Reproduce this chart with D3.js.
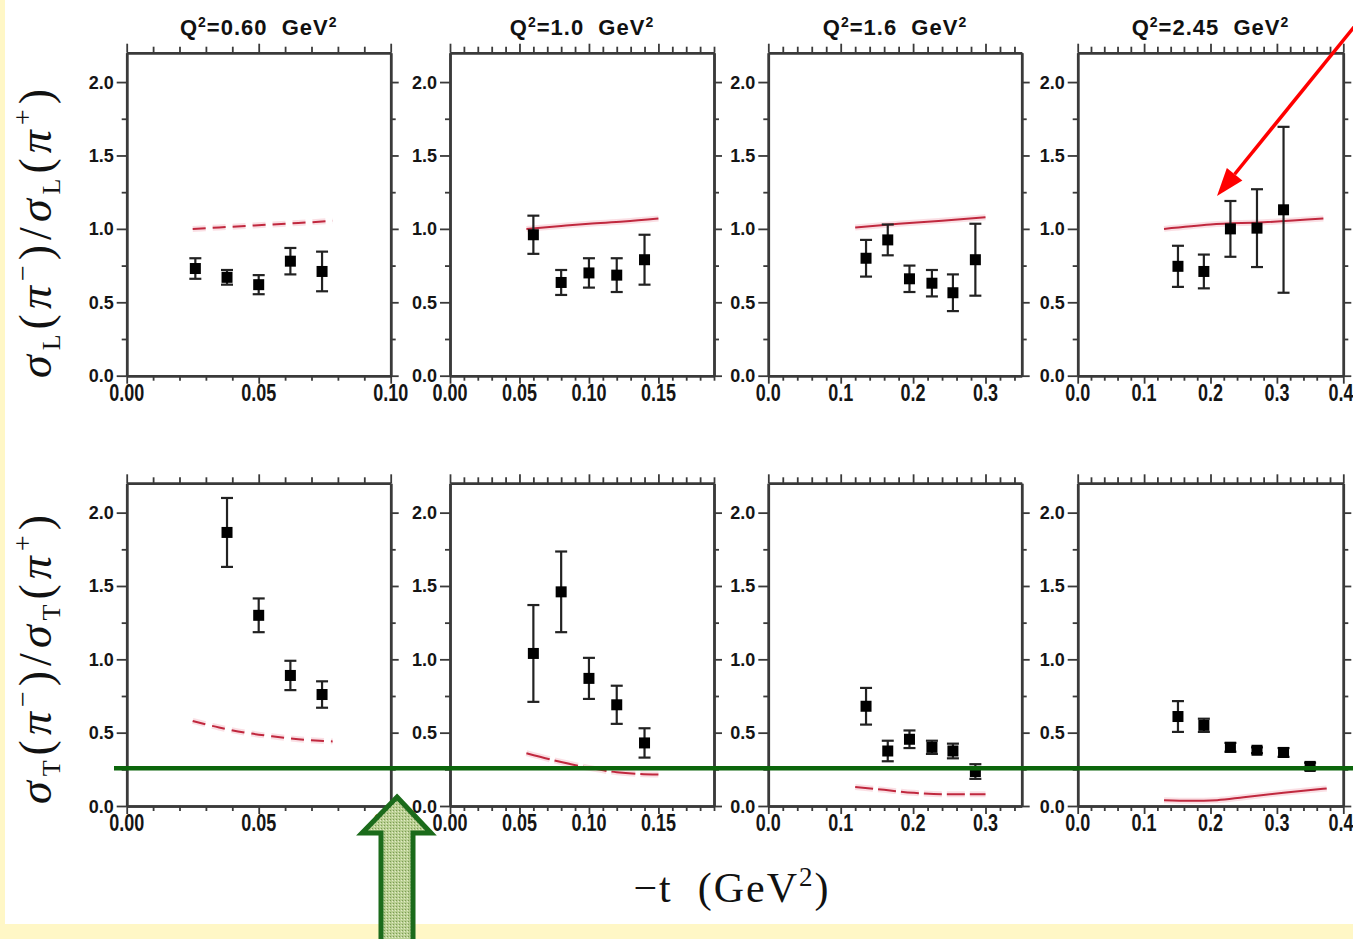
<!DOCTYPE html>
<html>
<head>
<meta charset="utf-8">
<script src="https://cdn.jsdelivr.net/npm/d3@7"></script>
<style>
  body { margin: 0; background: #fff7c6; }
  svg { display: block; }
</style>
</head>
<body>
<script>
// panel titles and x ranges
const q2Values = ["0.60", "1.0", "1.6", "2.45"];
const tMax = [0.10, 0.19, 0.35, 0.40];
const majorT = [[0, 0.05, 0.10], [0, 0.05, 0.10, 0.15], [0, 0.1, 0.2, 0.3], [0, 0.1, 0.2, 0.3, 0.4]];
const minorStep = [0.01, 0.01, 0.02, 0.02];
const tFormat = [".2f", ".2f", ".1f", ".1f"];
const yTicks = [0, 0.5, 1.0, 1.5, 2.0];
const yMinor = [0.25, 0.75, 1.25, 1.75];

// sigma_L ratio, data
const tL = [
  [0.026, 0.038, 0.050, 0.062, 0.074],
  [0.06, 0.08, 0.10, 0.12, 0.14],
  [0.135, 0.165, 0.195, 0.226, 0.255, 0.286],
  [0.151, 0.19, 0.23, 0.27, 0.31]
];
const ratioL = [
  [0.73, 0.67, 0.62, 0.78, 0.71],
  [0.96, 0.635, 0.70, 0.685, 0.79],
  [0.80, 0.925, 0.66, 0.63, 0.565, 0.79],
  [0.745, 0.71, 1.00, 1.005, 1.13]
];
const errL = [
  [0.07, 0.05, 0.065, 0.09, 0.135],
  [0.13, 0.085, 0.10, 0.115, 0.17],
  [0.125, 0.105, 0.09, 0.09, 0.125, 0.245],
  [0.14, 0.115, 0.19, 0.265, 0.565]
];
// sigma_T ratio, data
const tT = [
  [0.038, 0.050, 0.062, 0.074],
  [0.06, 0.08, 0.10, 0.12, 0.14],
  [0.135, 0.165, 0.195, 0.226, 0.255, 0.286],
  [0.151, 0.19, 0.23, 0.27, 0.31, 0.35]
];
const ratioT = [
  [1.865, 1.30, 0.89, 0.76],
  [1.04, 1.46, 0.87, 0.69, 0.43],
  [0.68, 0.375, 0.455, 0.40, 0.375, 0.235],
  [0.61, 0.55, 0.40, 0.38, 0.365, 0.27]
];
const errT = [
  [0.235, 0.115, 0.10, 0.09],
  [0.33, 0.275, 0.14, 0.13, 0.10],
  [0.125, 0.07, 0.06, 0.045, 0.05, 0.05],
  [0.105, 0.045, 0.03, 0.02, 0.03, 0.025]
];

// model curves
const curveTL = [
  [0.025, 0.035, 0.045, 0.055, 0.065, 0.078],
  [0.055, 0.08, 0.10, 0.125, 0.15],
  [0.12, 0.18, 0.24, 0.30],
  [0.13, 0.20, 0.28, 0.37]
];
const curveL = [
  [1.0, 1.01, 1.02, 1.03, 1.04, 1.055],
  [1.0, 1.02, 1.035, 1.05, 1.07],
  [1.01, 1.035, 1.055, 1.08],
  [1.0, 1.03, 1.045, 1.07]
];
const curveTT = [
  [0.025, 0.035, 0.045, 0.055, 0.065, 0.078],
  [0.055, 0.08, 0.10, 0.12, 0.15],
  [0.12, 0.16, 0.20, 0.24, 0.30],
  [0.13, 0.17, 0.21, 0.25, 0.31, 0.375]
];
const curveT = [
  [0.58, 0.535, 0.50, 0.475, 0.455, 0.44],
  [0.36, 0.30, 0.26, 0.23, 0.215],
  [0.13, 0.11, 0.09, 0.08, 0.08],
  [0.04, 0.035, 0.04, 0.06, 0.09, 0.12]
];
const dashL = ["13,7", null, null, null];
const dashT = ["13,7", "24,5", "18,5", null];

const W = 1353, H = 939;
const panelX = [[126.7, 390.7], [450, 714], [768.3, 1021.7], [1077.7, 1343.3]];
const rowY = [[375.7, 52.7], [806, 483.3]];
const axisColor = "#3a3a3a";
const tickFont = "bold 18px 'Liberation Sans', Arial, sans-serif";

const svg = d3.select("body").append("svg")
    .attr("width", W)
    .attr("height", H);

svg.append("rect").attr("width", W).attr("height", H).attr("fill", "#fff7c6");
svg.append("rect").attr("x", 5).attr("y", 0).attr("width", W - 5).attr("height", 924).attr("fill", "#fff");

const defs = svg.append("defs");
const pat = defs.append("pattern")
    .attr("id", "stip")
    .attr("width", 3).attr("height", 3)
    .attr("patternUnits", "userSpaceOnUse");
pat.append("rect").attr("width", 3).attr("height", 3).attr("fill", "#b9cf92");
pat.append("rect").attr("width", 1).attr("height", 1).attr("fill", "#7c9c55");
pat.append("rect").attr("x", 2).attr("y", 1).attr("width", 1).attr("height", 1).attr("fill", "#e2ebc8");

function range(a, b, step) {
  const out = [];
  for (let v = a; v <= b + 1e-9; v += step) out.push(+v.toFixed(4));
  return out;
}

function drawPanel(row, i, ts, vals, errs, cts, cvals, dash) {
  const x = d3.scaleLinear().domain([0, tMax[i]]).range(panelX[i]);
  const y = d3.scaleLinear().domain([0, 2.2]).range(rowY[row]);
  const g = svg.append("g");
  const majors = majorT[i];
  const minors = range(0, tMax[i], minorStep[i]).filter(v => !majors.some(m => Math.abs(m - v) < 1e-6));

  // axes
  const axes = [
    [d3.axisBottom(x).tickValues(majors).tickSize(8), y.range()[0]],
    [d3.axisBottom(x).tickValues(minors).tickSize(5), y.range()[0]],
    [d3.axisTop(x).tickValues(majors).tickSize(9), y.range()[1]],
    [d3.axisTop(x).tickValues(minors).tickSize(6), y.range()[1]]
  ];
  axes.forEach(([ax, yy]) => {
    g.append("g").attr("transform", `translate(0,${yy})`)
      .call(ax.tickFormat("").tickSizeOuter(0));
  });
  const yaxes = [
    [d3.axisLeft(y).tickValues(yTicks).tickSize(10), x.range()[0]],
    [d3.axisLeft(y).tickValues(yMinor).tickSize(5), x.range()[0]],
    [d3.axisRight(y).tickValues(yTicks).tickSize(8), x.range()[1]],
    [d3.axisRight(y).tickValues(yMinor).tickSize(5), x.range()[1]]
  ];
  yaxes.forEach(([ax, xx]) => {
    g.append("g").attr("transform", `translate(${xx},0)`)
      .call(ax.tickFormat("").tickSizeOuter(0));
  });
  g.selectAll(".domain").attr("stroke", axisColor).attr("stroke-width", 2.5);
  g.selectAll(".tick line").attr("stroke", axisColor).attr("stroke-width", 1.8);

  // tick labels
  g.selectAll(".ylab")
    .data(yTicks)
    .join("text")
      .attr("x", x.range()[0] - 13)
      .attr("y", d => y(d) + 6.5)
      .attr("text-anchor", "end")
      .style("font", tickFont)
      .attr("fill", "#151515")
      .text(d3.format(".1f"));
  g.selectAll(".xlab")
    .data(majors)
    .join("text")
      .attr("transform", d => `translate(${Math.min(x(d), W - 12)},${y.range()[0] + 25}) scale(1,1.3)`)
      .attr("text-anchor", "middle")
      .style("font", tickFont)
      .attr("fill", "#151515")
      .text(d3.format(tFormat[i]));

  // model curve
  const line = d3.line().x((d, k) => x(cts[k])).y(d => y(d)).curve(d3.curveMonotoneX);
  g.append("path")
      .attr("d", line(cvals))
      .attr("fill", "none")
      .attr("stroke", "#f6c9d2")
      .attr("stroke-width", 6)
      .attr("stroke-opacity", 0.6)
      .attr("stroke-dasharray", dash);
  g.append("path")
      .attr("d", line(cvals))
      .attr("fill", "none")
      .attr("stroke", "#c0283e")
      .attr("stroke-width", 2)
      .attr("stroke-dasharray", dash);

  // data with error bars
  const pts = g.selectAll(".pt")
    .data(vals.map((v, k) => ({t: ts[k], v: v, e: errs[k]})))
    .join("g");
  pts.append("line")
      .attr("x1", d => x(d.t)).attr("x2", d => x(d.t))
      .attr("y1", d => y(d.v + d.e)).attr("y2", d => y(d.v - d.e))
      .attr("stroke", "#222").attr("stroke-width", 2.2);
  [1, -1].forEach(s => {
    pts.append("line")
        .attr("x1", d => x(d.t) - 6).attr("x2", d => x(d.t) + 6)
        .attr("y1", d => y(d.v + s * d.e)).attr("y2", d => y(d.v + s * d.e))
        .attr("stroke", "#222").attr("stroke-width", 2.2);
  });
  pts.append("rect")
      .attr("x", d => x(d.t) - 5.5)
      .attr("y", d => y(d.v) - 5.5)
      .attr("width", 11).attr("height", 11)
      .attr("fill", "#000");

  if (row == 0) {
    const tt = svg.append("text")
        .attr("x", (panelX[i][0] + panelX[i][1]) / 2)
        .attr("y", 35)
        .attr("text-anchor", "middle")
        .style("font", "bold 22px 'Liberation Sans', Arial, sans-serif")
        .style("letter-spacing", "1px")
        .attr("fill", "#111")
        .attr("xml:space", "preserve");
    tt.append("tspan").text("Q");
    tt.append("tspan").attr("dy", -8).style("font-size", "14px").text("2");
    tt.append("tspan").attr("dy", 8).text("=" + q2Values[i] + "  GeV");
    tt.append("tspan").attr("dy", -8).style("font-size", "14px").text("2");
  }
}

for (let i = 0; i < 4; i++) {
  drawPanel(0, i, tL[i], ratioL[i], errL[i], curveTL[i], curveL[i], dashL[i]);
  drawPanel(1, i, tT[i], ratioT[i], errT[i], curveTT[i], curveT[i], dashT[i]);
}

// y axis titles
function ylabel(cy, sub) {
  const t = svg.append("text")
      .attr("transform", `translate(51,${cy}) rotate(-90)`)
      .attr("text-anchor", "middle")
      .style("font-family", "'Liberation Serif', 'Times New Roman', serif")
      .style("font-size", "46px")
      .style("letter-spacing", "5px")
      .attr("fill", "#111");
  t.append("tspan").style("font-style", "italic").text("σ");
  t.append("tspan").attr("dy", 9).style("font-size", "26px").text(sub);
  t.append("tspan").attr("dy", -9).text("(");
  t.append("tspan").style("font-style", "italic").text("π");
  t.append("tspan").attr("dy", -19).style("font-size", "28px").text("−");
  t.append("tspan").attr("dy", 19).text(")/");
  t.append("tspan").style("font-style", "italic").text("σ");
  t.append("tspan").attr("dy", 9).style("font-size", "26px").text(sub);
  t.append("tspan").attr("dy", -9).text("(");
  t.append("tspan").style("font-style", "italic").text("π");
  t.append("tspan").attr("dy", -19).style("font-size", "28px").text("+");
  t.append("tspan").attr("dy", 19).text(")");
}
ylabel(231, "L");
ylabel(657, "T");

// x axis title
const xt = svg.append("text")
    .attr("x", 732)
    .attr("y", 902)
    .attr("text-anchor", "middle")
    .style("font-family", "'Liberation Serif', 'Times New Roman', serif")
    .style("font-size", "42px")
    .style("letter-spacing", "2px")
    .attr("fill", "#111")
    .attr("xml:space", "preserve");
xt.append("tspan").text("−t  (GeV");
xt.append("tspan").attr("dy", -16).style("font-size", "27px").text("2");
xt.append("tspan").attr("dy", 16).text(")");

// annotations
svg.append("line")
    .attr("x1", 114).attr("x2", W)
    .attr("y1", 768.3).attr("y2", 768.3)
    .attr("stroke", "#0b650b").attr("stroke-width", 4.5);

svg.append("path")
    .attr("d", "M397,797 L431,833 L413,833 L413,945 L381,945 L381,833 L362,833 Z")
    .attr("fill", "url(#stip)")
    .attr("stroke", "#1b6b1b")
    .attr("stroke-width", 5);

const tip = [1217, 196], tail = [1358, 22];
const ang = Math.atan2(tip[1] - tail[1], tip[0] - tail[0]);
const hl = 28, hw = 10;
const bx = tip[0] - hl * Math.cos(ang), by = tip[1] - hl * Math.sin(ang);
svg.append("line")
    .attr("x1", tail[0]).attr("y1", tail[1])
    .attr("x2", bx).attr("y2", by)
    .attr("stroke", "#ff0000").attr("stroke-width", 3.5);
svg.append("path")
    .attr("d", `M${tip[0]},${tip[1]} L${bx + hw * Math.sin(ang)},${by - hw * Math.cos(ang)} L${bx - hw * Math.sin(ang)},${by + hw * Math.cos(ang)} Z`)
    .attr("fill", "#ff0000");
</script>
</body>
</html>
